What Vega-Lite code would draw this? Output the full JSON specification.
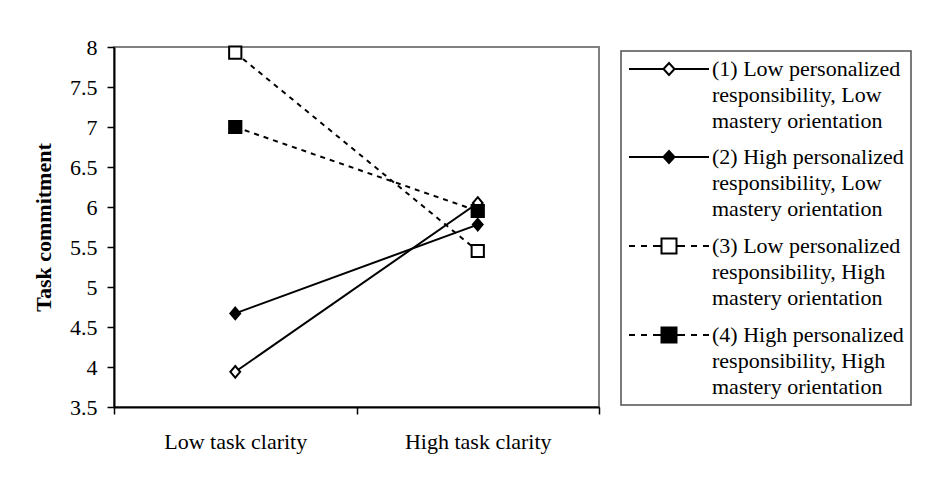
{
  "$schema": "https://vega.github.io/schema/vega-lite/v6.json",
  "width": 485,
  "height": 360,
  "autosize": {"type": "none"},
  "padding": {"left": 114, "top": 47, "right": 327, "bottom": 74},
  "background": "white",
  "data": {
    "values": [
      {"series": "1", "clarity": "Low task clarity", "value": 3.94},
      {"series": "1", "clarity": "High task clarity", "value": 6.05},
      {"series": "2", "clarity": "Low task clarity", "value": 4.67},
      {"series": "2", "clarity": "High task clarity", "value": 5.78},
      {"series": "3", "clarity": "Low task clarity", "value": 7.93},
      {"series": "3", "clarity": "High task clarity", "value": 5.45},
      {"series": "4", "clarity": "Low task clarity", "value": 7.0},
      {"series": "4", "clarity": "High task clarity", "value": 5.95}
    ]
  },
  "encoding": {
    "x": {
      "field": "clarity",
      "type": "nominal",
      "sort": ["Low task clarity", "High task clarity"],
      "scale": {"type": "band", "paddingInner": 0, "paddingOuter": 0},
      "axis": {
        "title": null,
        "labelAngle": 0,
        "tickBand": "extent",
        "tickSize": 7,
        "labelPadding": 17,
        "grid": false,
        "domainWidth": 2,
        "tickWidth": 1.5
      }
    },
    "y": {
      "field": "value",
      "type": "quantitative",
      "scale": {"domain": [3.5, 8], "nice": false, "zero": false},
      "axis": {
        "title": "Task commitment",
        "values": [3.5, 4, 4.5, 5, 5.5, 6, 6.5, 7, 7.5, 8],
        "format": "~g",
        "tickSize": 7,
        "labelPadding": 10,
        "grid": false,
        "titlePadding": 14,
        "titleFontWeight": "bold",
        "domainWidth": 2,
        "tickWidth": 1.5
      }
    }
  },
  "layer": [
    {
      "transform": [{"filter": "datum.series == '1' || datum.series == '2'"}],
      "mark": {"type": "line", "color": "black", "strokeWidth": 2},
      "encoding": {"detail": {"field": "series"}}
    },
    {
      "transform": [{"filter": "datum.series == '3' || datum.series == '4'"}],
      "mark": {"type": "line", "color": "black", "strokeWidth": 2, "strokeDash": [5, 5]},
      "encoding": {"detail": {"field": "series"}}
    },
    {
      "transform": [{"filter": "datum.series == '1'"}],
      "mark": {"type": "point", "shape": "M0,-0.95L0.8,0L0,0.95L-0.8,0Z", "filled": true, "fill": "white", "stroke": "black", "strokeWidth": 2, "size": 150, "opacity": 1}
    },
    {
      "transform": [{"filter": "datum.series == '2'"}],
      "mark": {"type": "point", "shape": "M0,-0.95L0.8,0L0,0.95L-0.8,0Z", "filled": true, "fill": "black", "stroke": "black", "strokeWidth": 2, "size": 150, "opacity": 1}
    },
    {
      "transform": [{"filter": "datum.series == '3'"}],
      "mark": {"type": "point", "shape": "square", "filled": true, "fill": "white", "stroke": "black", "strokeWidth": 2, "size": 150, "opacity": 1}
    },
    {
      "transform": [{"filter": "datum.series == '4'"}],
      "mark": {"type": "point", "shape": "square", "filled": true, "fill": "black", "stroke": "black", "strokeWidth": 2, "size": 150, "opacity": 1}
    },
    {
      "mark": {"type": "point", "filled": true, "strokeWidth": 2, "opacity": 0},
      "encoding": {
        "shape": {
          "field": "series",
          "type": "nominal",
          "scale": {
            "domain": ["1", "2", "3", "4"],
            "range": [
              "M-4,0H-0.55M0.55,0H4M-0.55,0L0,-0.6L0.55,0L0,0.6Z",
              "M-4,0H-0.55M0.55,0H4M-0.55,0L0,-0.6L0.55,0L0,0.6Z",
              "M-4,0H-3.4M-2.8,0H-2.2M-1.6,0H-0.75M0.75,0H1.6M2.2,0H2.8M3.4,0H4M-0.75,-0.75H0.75V0.75H-0.75Z",
              "M-4,0H-3.4M-2.8,0H-2.2M-1.6,0H-0.75M0.75,0H1.6M2.2,0H2.8M3.4,0H4M-0.75,-0.75H0.75V0.75H-0.75Z"
            ]
          },
          "legend": {
            "title": null,
            "orient": "none",
            "legendX": 507,
            "legendY": 4,
            "padding": 7,
            "symbolSize": 400,
            "symbolOffset": 30,
            "labelOffset": 32,
            "symbolStrokeWidth": 2,
            "symbolOpacity": 1,
            "labelLimit": 0,
            "labelBaseline": "middle",
            "rowPadding": 14,
            "labelExpr": "datum.value == '1' ? ['(1) Low personalized', 'responsibility, Low', 'mastery orientation'] : datum.value == '2' ? ['(2) High personalized', 'responsibility, Low', 'mastery orientation'] : datum.value == '3' ? ['(3) Low personalized', 'responsibility, High', 'mastery orientation'] : ['(4) High personalized', 'responsibility, High', 'mastery orientation']"
          }
        },
        "fill": {
          "field": "series",
          "type": "nominal",
          "scale": {"domain": ["1", "2", "3", "4"], "range": ["white", "black", "white", "black"]},
          "legend": {
            "title": null,
            "orient": "none",
            "legendX": 507,
            "legendY": 4,
            "padding": 7,
            "symbolSize": 400,
            "symbolOffset": 30,
            "labelOffset": 32,
            "symbolStrokeWidth": 2,
            "symbolOpacity": 1,
            "labelLimit": 0,
            "labelBaseline": "middle",
            "rowPadding": 14,
            "labelExpr": "datum.value == '1' ? ['(1) Low personalized', 'responsibility, Low', 'mastery orientation'] : datum.value == '2' ? ['(2) High personalized', 'responsibility, Low', 'mastery orientation'] : datum.value == '3' ? ['(3) Low personalized', 'responsibility, High', 'mastery orientation'] : ['(4) High personalized', 'responsibility, High', 'mastery orientation']"
          }
        },
        "stroke": {
          "field": "series",
          "type": "nominal",
          "scale": {"domain": ["1", "2", "3", "4"], "range": ["black", "black", "black", "black"]},
          "legend": {
            "title": null,
            "orient": "none",
            "legendX": 507,
            "legendY": 4,
            "padding": 7,
            "symbolSize": 400,
            "symbolOffset": 30,
            "labelOffset": 32,
            "symbolStrokeWidth": 2,
            "symbolOpacity": 1,
            "labelLimit": 0,
            "labelBaseline": "middle",
            "rowPadding": 14,
            "labelExpr": "datum.value == '1' ? ['(1) Low personalized', 'responsibility, Low', 'mastery orientation'] : datum.value == '2' ? ['(2) High personalized', 'responsibility, Low', 'mastery orientation'] : datum.value == '3' ? ['(3) Low personalized', 'responsibility, High', 'mastery orientation'] : ['(4) High personalized', 'responsibility, High', 'mastery orientation']"
          }
        }
      }
    }
  ],
  "config": {
    "font": "Liberation Serif",
    "view": {"stroke": "#808080", "strokeWidth": 2},
    "axis": {
      "labelFont": "Liberation Serif",
      "labelFontSize": 22,
      "labelColor": "black",
      "titleFont": "Liberation Serif",
      "titleFontSize": 22,
      "titleColor": "black",
      "domainColor": "black",
      "tickColor": "black"
    },
    "legend": {
      "labelFont": "Liberation Serif",
      "labelFontSize": 22,
      "labelColor": "black",
      "strokeColor": "#505050",
      "strokeWidth": 1.5
    },
    "style": {"guide-label": {"lineHeight": 26}}
  }
}
